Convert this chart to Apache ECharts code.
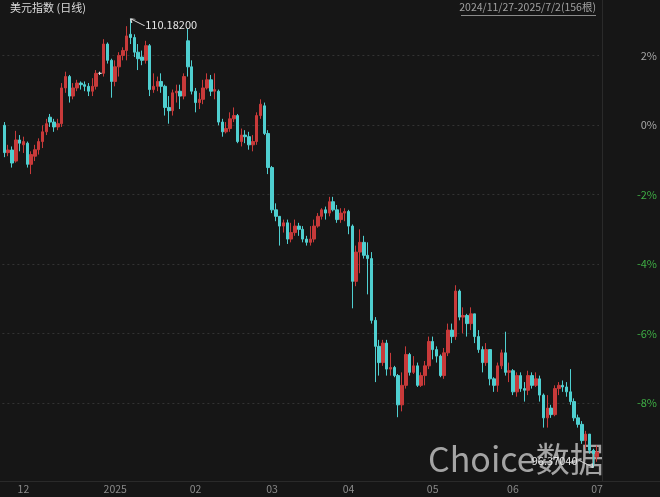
<!DOCTYPE html>
<html><head><meta charset="utf-8">
<script src="https://cdn.jsdelivr.net/npm/echarts@6/dist/echarts.min.js"></script>
<style>html,body{margin:0;padding:0;background:#161616;}#c{width:660px;height:497px;}</style>
</head><body><div id="c"></div>
<script>
const dates = ['2024/11/27','2024/11/28','2024/11/29','2024/12/02','2024/12/03','2024/12/04','2024/12/05','2024/12/06','2024/12/09','2024/12/10','2024/12/11','2024/12/12','2024/12/13','2024/12/16','2024/12/17','2024/12/18','2024/12/19','2024/12/20','2024/12/23','2024/12/24','2024/12/25','2024/12/26','2024/12/27','2024/12/30','2024/12/31','2025/01/01','2025/01/02','2025/01/03','2025/01/06','2025/01/07','2025/01/08','2025/01/09','2025/01/10','2025/01/13','2025/01/14','2025/01/15','2025/01/16','2025/01/17','2025/01/20','2025/01/21','2025/01/22','2025/01/23','2025/01/24','2025/01/27','2025/01/28','2025/01/29','2025/01/30','2025/01/31','2025/02/03','2025/02/04','2025/02/05','2025/02/06','2025/02/07','2025/02/10','2025/02/11','2025/02/12','2025/02/13','2025/02/14','2025/02/17','2025/02/18','2025/02/19','2025/02/20','2025/02/21','2025/02/24','2025/02/25','2025/02/26','2025/02/27','2025/02/28','2025/03/03','2025/03/04','2025/03/05','2025/03/06','2025/03/07','2025/03/10','2025/03/11','2025/03/12','2025/03/13','2025/03/14','2025/03/17','2025/03/18','2025/03/19','2025/03/20','2025/03/21','2025/03/24','2025/03/25','2025/03/26','2025/03/27','2025/03/28','2025/03/31','2025/04/01','2025/04/02','2025/04/03','2025/04/04','2025/04/07','2025/04/08','2025/04/09','2025/04/10','2025/04/11','2025/04/14','2025/04/15','2025/04/16','2025/04/17','2025/04/18','2025/04/21','2025/04/22','2025/04/23','2025/04/24','2025/04/25','2025/04/28','2025/04/29','2025/04/30','2025/05/01','2025/05/02','2025/05/05','2025/05/06','2025/05/07','2025/05/08','2025/05/09','2025/05/12','2025/05/13','2025/05/14','2025/05/15','2025/05/16','2025/05/19','2025/05/20','2025/05/21','2025/05/22','2025/05/23','2025/05/26','2025/05/27','2025/05/28','2025/05/29','2025/05/30','2025/06/02','2025/06/03','2025/06/04','2025/06/05','2025/06/06','2025/06/09','2025/06/10','2025/06/11','2025/06/12','2025/06/13','2025/06/16','2025/06/17','2025/06/18','2025/06/19','2025/06/20','2025/06/23','2025/06/24','2025/06/25','2025/06/26','2025/06/27','2025/06/30','2025/07/01','2025/07/02'];

const opens = [106.90,106.06,106.14,105.80,106.45,106.30,106.35,105.70,105.95,106.15,106.40,106.70,107.15,107.00,106.85,106.95,108.05,108.40,107.80,108.05,108.20,108.15,108.10,107.95,108.10,108.50,108.50,109.40,108.90,108.25,108.70,109.05,109.20,109.70,109.60,109.15,109.00,108.90,109.35,108.00,108.10,108.25,108.10,107.45,107.35,107.90,107.95,107.80,109.50,108.70,107.95,107.60,107.70,108.05,108.30,107.95,107.95,107.00,106.70,106.80,107.10,107.20,106.40,106.60,106.55,106.30,106.40,107.20,107.50,106.65,105.60,104.30,104.10,103.80,103.90,103.40,103.60,103.80,103.70,103.40,103.30,103.40,103.80,104.10,104.30,104.20,104.55,104.30,104.00,104.20,104.25,103.80,102.10,103.00,103.30,102.90,102.80,100.90,100.10,99.60,100.20,99.40,99.45,99.20,98.30,98.90,99.85,99.30,99.50,98.90,99.20,99.50,100.25,100.00,99.80,99.20,99.90,100.60,100.40,101.80,101.00,101.05,100.80,101.10,100.40,100.00,99.60,100.00,99.10,98.90,99.50,99.90,99.30,99.35,98.70,99.20,98.80,98.75,99.20,98.90,99.10,98.60,97.90,98.20,98.00,98.80,98.90,98.85,98.70,98.40,97.90,97.70,97.20,97.40,96.90,96.70];
const closes = [106.06,106.14,105.74,106.45,106.35,106.40,105.70,106.00,106.15,106.40,106.70,106.95,107.00,106.85,106.95,108.05,108.40,107.80,108.05,108.20,108.15,108.10,107.95,108.10,108.50,108.50,109.40,108.90,108.25,108.70,109.05,109.20,109.65,109.60,109.15,108.95,108.90,109.35,108.00,108.10,108.25,108.10,107.45,107.35,107.90,107.95,107.80,108.40,108.70,107.95,107.60,107.70,108.05,108.30,107.95,108.00,107.00,106.70,106.80,107.10,107.20,106.40,106.60,106.55,106.30,106.40,107.20,107.55,106.65,105.60,104.30,104.10,103.80,103.90,103.40,103.60,103.80,103.70,103.40,103.30,103.40,103.80,104.10,104.30,104.20,104.55,104.30,104.00,104.20,104.25,103.80,102.10,103.00,103.30,102.90,102.80,100.90,100.10,99.60,100.20,99.40,99.45,99.20,98.30,98.90,99.85,99.30,99.50,98.90,99.20,99.50,100.25,100.00,99.80,99.20,99.90,100.60,100.40,101.80,101.00,101.05,100.80,101.10,100.40,100.00,99.60,100.00,99.10,98.90,99.50,99.90,99.30,99.35,98.70,99.20,98.80,98.75,99.20,98.90,99.10,98.60,97.90,98.20,98.00,98.80,98.90,98.85,98.70,98.40,97.90,97.70,97.20,97.40,96.90,96.80,96.85];
const lows = [105.92,105.95,105.60,105.75,106.10,106.05,105.60,105.40,105.80,106.00,106.20,106.60,106.85,106.70,106.75,106.85,107.90,107.60,107.70,107.95,108.00,107.95,107.80,107.80,108.00,108.45,108.40,108.80,107.75,108.10,108.40,108.90,108.90,109.40,109.00,108.60,108.75,108.80,107.80,107.90,107.95,107.90,107.20,106.95,107.20,107.60,107.40,107.70,108.40,107.85,107.30,107.40,107.55,108.00,107.80,107.70,106.90,106.55,106.65,106.70,107.00,106.35,106.25,106.35,106.15,106.10,106.30,107.10,106.60,105.40,104.20,103.95,103.20,103.60,103.25,103.30,103.50,103.50,103.30,103.20,103.20,103.30,103.75,104.00,104.00,104.10,104.25,103.90,103.90,103.95,103.55,101.27,101.95,102.35,102.80,101.70,100.80,99.00,99.20,99.50,99.20,99.20,99.15,97.92,98.10,98.80,99.20,99.25,98.85,98.85,98.90,99.40,99.70,99.60,99.15,99.10,99.80,100.20,100.30,100.90,100.50,100.40,100.60,100.20,99.90,99.30,99.50,98.90,98.70,98.70,99.40,99.20,99.00,98.60,98.55,98.70,98.40,98.60,98.80,98.85,98.40,97.60,97.60,97.90,97.95,98.60,98.70,98.55,98.30,97.80,97.60,97.10,96.95,96.80,96.3704,96.55];
const highs = [107.00,106.30,106.25,106.73,106.60,106.55,106.40,106.10,106.30,106.50,106.90,107.10,107.25,107.10,107.10,108.20,108.55,108.45,108.20,108.30,108.25,108.25,108.20,108.35,108.60,108.55,109.55,109.45,108.95,108.90,109.15,109.30,109.95,110.182,109.70,109.40,109.20,109.50,109.40,108.50,108.40,108.50,108.15,107.80,108.00,108.15,108.15,108.50,109.88,108.90,108.05,107.90,108.30,108.50,108.45,108.50,108.00,107.10,107.00,107.30,107.45,107.25,106.80,106.75,106.70,106.60,107.30,107.70,107.60,106.75,105.65,104.50,104.10,104.00,104.00,103.90,104.00,103.90,103.80,103.50,103.80,104.00,104.20,104.35,104.40,104.70,104.70,104.45,104.35,104.35,104.30,103.85,103.20,103.70,103.50,103.30,103.00,101.00,100.30,100.30,100.30,99.90,99.50,99.25,99.30,100.10,99.90,99.80,99.60,99.30,99.65,100.40,100.40,100.10,99.85,100.05,100.80,100.80,101.98,101.85,101.30,101.10,101.30,101.10,100.60,100.10,100.20,100.00,99.15,99.60,100.00,100.55,99.60,99.40,99.30,99.30,99.00,99.35,99.30,99.30,99.20,98.65,98.60,98.30,98.90,99.00,99.05,99.00,99.40,98.50,98.00,97.80,97.50,97.40,96.95,97.05];

const basePrice = 106.91;
const pctMin = -10, pctMax = 3.597, pctStep = 2;
const monthLabels = ['12', '2025', '02', '03', '04', '05', '06', '07'];
const monthLabelIdx = [5, 29, 50, 70, 90, 112, 133, 155];

const RED = '#c83a3a', CYAN = '#4fcfd0';
const candles = dates.map((d, i) => [opens[i], closes[i], lows[i], highs[i]]);
const font = '"Noto Sans CJK SC","Noto Sans",sans-serif';

const chart = echarts.init(document.getElementById('c'), null, {renderer: 'canvas'});
chart.setOption({
  backgroundColor: '#161616',
  animation: false,
  textStyle: {fontFamily: font},
  grid: {left: 2.4, right: 60, top: 0, bottom: 24.5, containLabel: false},
  xAxis: {
    type: 'category', data: dates, boundaryGap: true,
    axisLine: {show: false}, axisTick: {show: false}, splitLine: {show: false},
    offset: 8,
    axisLabel: {
      interval: (idx) => monthLabelIdx.indexOf(idx) >= 0,
      formatter: (v, idx) => { const k = monthLabelIdx.indexOf(idx); return k >= 0 ? monthLabels[k] : ''; },
      color: (v, idx) => (monthLabelIdx.indexOf(idx) === 1 ? '#e6e6e6' : '#8a8a8a'),
      fontSize: 10.5, margin: 3, hideOverlap: false, fontFamily: font
    }
  },
  yAxis: [
    {type: 'value', min: basePrice * (1 + pctMin / 100), max: basePrice * (1 + pctMax / 100), show: false, scale: true},
    {type: 'value', position: 'right', min: pctMin, max: pctMax, interval: pctStep,
     axisLine: {show: false}, axisTick: {show: false},
     splitLine: {show: true, showMinLine: false, showMaxLine: false, lineStyle: {color: '#333333', type: [2, 3], width: 1}},
     axisLabel: {showMinLabel: false, showMaxLabel: false, align: 'right', margin: 58, fontSize: 11, fontFamily: font,
       formatter: (v) => (Math.abs(v - Math.round(v)) < 1e-6 ? Math.round(v) + '%' : ''),
       color: (v) => (Number(v) < 0 ? '#3fae45' : '#a8a8a8')}
    }
  ],
  series: [{
    type: 'candlestick', yAxisIndex: 0, data: candles, barWidth: 3,
    itemStyle: {color: RED, color0: CYAN, borderColor: RED, borderColor0: CYAN, borderColorDoji: '#dddddd', borderWidth: 1},
    markPoint: {
      silent: true,
      data: [
        {type: 'max', valueDim: 'highest', symbol: 'path://M0,0 L14,7 M0,0 L5,0.6 M0,0 L1.2,4.2', symbolSize: [14, 7], symbolOffset: [7, 3.5],
         itemStyle: {color: 'rgba(0,0,0,0)', borderColor: '#d8d8d8', borderWidth: 1},
         label: {show: true, position: 'right', distance: 0, offset: [0, 3], color: '#e6e6e6', fontSize: 11, fontFamily: font,
                 formatter: (p) => Number(p.value).toFixed(5)}},
        {type: 'min', valueDim: 'lowest', symbol: 'path://M14,7 L0,0 M14,7 L9,6.4 M14,7 L12.8,2.8', symbolSize: [14, 7], symbolOffset: [-7, -3.5],
         itemStyle: {color: 'rgba(0,0,0,0)', borderColor: '#d8d8d8', borderWidth: 1},
         label: {show: true, position: 'left', distance: 1, offset: [0, -3], color: '#e6e6e6', fontSize: 11, fontFamily: font,
                 formatter: (p) => Number(p.value).toFixed(5)}}
      ]
    }
  }],
  graphic: [
    {type: 'text', left: 10, top: 2, z: 10, style: {text: '美元指数 (日线)', fill: '#dcdcdc', font: '11px ' + font}},
    {type: 'text', right: 64, top: 2, z: 10, style: {text: '2024/11/27-2025/7/2(156根)', fill: '#a0a0a0', font: '10.5px ' + font}},
    {type: 'line', z: 10, shape: {x1: 461, y1: 15.5, x2: 596, y2: 15.5}, style: {stroke: '#8a8a8a', lineWidth: 1}},
    {type: 'line', z: 1, shape: {x1: 602.5, y1: 0, x2: 602.5, y2: 481}, style: {stroke: '#2a2a2a', lineWidth: 1}},
    {type: 'line', z: 1, shape: {x1: 0, y1: 481.5, x2: 660, y2: 481.5}, style: {stroke: '#2a2a2a', lineWidth: 1}},
    {type: 'text', left: 428, top: 442, z: 0, style: {text: 'Choice数据', fill: 'rgba(200,200,200,0.8)', font: '34px ' + font}}
  ]
});
</script></body></html>
